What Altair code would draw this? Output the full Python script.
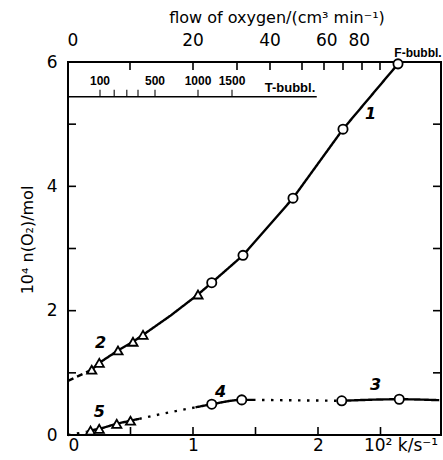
import altair as alt
import pandas as pd

FONT = "DejaVu Sans"
SMALL = "Liberation Sans"

# ---------------- data ----------------
# curve 2 (triangles) joined with curve 1 (circles): solid line
c12_k = [0.19, 0.25, 0.40, 0.52, 0.60, 0.82, 1.04, 1.15, 1.40, 1.80, 2.20, 2.64]
c12_n = [1.05, 1.16, 1.36, 1.50, 1.61, 1.92, 2.26, 2.45, 2.89, 3.81, 4.92, 5.97]
tri2_k = [0.19, 0.25, 0.40, 0.52, 0.60, 1.04]
tri2_n = [1.05, 1.16, 1.36, 1.50, 1.61, 2.26]
circ1_k = [1.15, 1.40, 1.80, 2.20, 2.64]
circ1_n = [2.45, 2.89, 3.81, 4.92, 5.97]
dash2_k = [0.0, 0.19]
dash2_n = [0.87, 1.05]

# curve 5 (triangles)
c5_k = [0.15, 0.18, 0.25, 0.39, 0.50, 0.57]
c5_n = [0.05, 0.07, 0.10, 0.18, 0.23, 0.26]
tri5_k = [0.18, 0.25, 0.39, 0.50]
tri5_n = [0.07, 0.10, 0.18, 0.23]
dot0_k = [0.0, 0.15]
dot0_n = [0.0, 0.05]
dot1_k = [0.57, 0.80, 1.02]
dot1_n = [0.26, 0.36, 0.445]

# curve 4 (circles)
c4_k = [1.02, 1.15, 1.39, 1.48]
c4_n = [0.445, 0.495, 0.565, 0.565]
circ4_k = [1.15, 1.39]
circ4_n = [0.495, 0.565]
dot2_k = [1.48, 2.19]
dot2_n = [0.565, 0.55]

# curve 3 (circles)
c3_k = [2.19, 2.65, 2.97]
c3_n = [0.55, 0.575, 0.56]
circ3_k = [2.19, 2.65]
circ3_n = [0.55, 0.575]

# curve numbers
lab_text = ["1", "2", "3", "4", "5"]
lab_k = [2.42, 0.26, 2.46, 1.22, 0.25]
lab_n = [5.16, 1.48, 0.81, 0.69, 0.37]

# axis ticks
y_ticks = [1, 2, 3, 4, 5]
x_ticks = [0.5, 1.0, 1.5, 2.0, 2.5]
y_labels = [0, 2, 4, 6]
x_labels = [0, 1, 2]

# top axis: flow of oxygen (F-bubbl.), non-linear, tick value -> k position
flow_vals = [0, 10, 20, 30, 40, 50, 60, 70, 80, 90]
flow_k = [0.0, 0.496, 1.0, 1.352, 1.616, 1.872, 2.048, 2.20, 2.352, 2.496]
flow_lab = ["0", "", "20", "", "40", "", "60", "", "80", ""]
flow_lab_k = [0.04, 0.496, 1.0, 1.352, 1.616, 1.872, 2.07, 2.20, 2.33, 2.496]

# inner T-bubbl. scale
t_line_k = [0.0, 1.99]
t_line_n = 5.44
t_vals = [100, 200, 300, 400, 500, 1000, 1500]
t_k = [0.256, 0.37, 0.47, 0.56, 0.696, 1.04, 1.312]
t_lab = ["100", "", "", "", "500", "1000", "1500"]

# ---------------- tables ----------------
segs = []
def add(name, style, interp, ks, ns):
    for i, (k, n) in enumerate(zip(ks, ns)):
        segs.append({"seg": name, "style": style, "interp": interp, "ord": i, "k": k, "n": n})

add("c12", "solid", "lin", c12_k, c12_n)
add("d2", "dashed", "mono", dash2_k, dash2_n)
add("c5", "solid", "mono", c5_k, c5_n)
add("o0", "dotted", "mono", dot0_k, dot0_n)
add("o1", "dotted", "mono", dot1_k, dot1_n)
add("c4", "solid", "mono", c4_k, c4_n)
add("o2", "dotted", "mono", dot2_k, dot2_n)
add("c3", "solid", "mono", c3_k, c3_n)
lines_df = pd.DataFrame(segs)

pts = []
for ks, ns, sh in [(tri2_k, tri2_n, "triangle-up"), (circ1_k, circ1_n, "circle"),
                   (tri5_k, tri5_n, "triangle-up"), (circ4_k, circ4_n, "circle"),
                   (circ3_k, circ3_n, "circle")]:
    for k, n in zip(ks, ns):
        pts.append({"k": k, "n": n, "shape": sh})
pts_df = pd.DataFrame(pts)

lab_df = pd.DataFrame({"k": lab_k, "n": lab_n, "t": lab_text})
yt_df = pd.DataFrame({"n": y_ticks})
xt_df = pd.DataFrame({"k": x_ticks})
flow_df = pd.DataFrame({"k": flow_k, "v": flow_vals, "t": flow_lab})
flow_lab_df = pd.DataFrame({"k": flow_lab_k, "t": flow_lab})
tline_df = pd.DataFrame({"k": [t_line_k[0]], "k2": [t_line_k[1]], "n": [t_line_n]})
t_df = pd.DataFrame({"k": t_k, "v": t_vals, "t": t_lab, "n": [t_line_n] * len(t_k)})

W, H = 373, 373
xs = alt.Scale(domain=[0, 2.984], nice=False, zero=False)
ys = alt.Scale(domain=[0, 6.0], nice=False, zero=False)
xaxis = alt.Axis(values=x_labels, ticks=False, domain=False, grid=False, title=None,
                 labelFontSize=17, labelFont=FONT, labelColor="black", labelPadding=2)
yaxis = alt.Axis(values=y_labels, ticks=False, domain=False, grid=False, title=None,
                 labelFontSize=17, labelFont=FONT, labelColor="black", labelPadding=11,
                 labelFlush=False, labelOverlap=False)

def X(f="k"):
    return alt.X(f"{f}:Q", scale=xs, axis=xaxis)

def Y(f="n"):
    return alt.Y(f"{f}:Q", scale=ys, axis=yaxis)

dash_scale = alt.Scale(domain=["solid", "dashed", "dotted"],
                       range=[[1, 0], [6, 4], [2.5, 6.5]])

def line_layer(interp, mode):
    return alt.Chart(lines_df).transform_filter(
        alt.datum.interp == interp
    ).mark_line(color="black", strokeWidth=2.4, interpolate=mode,
                strokeJoin="round").encode(
        x=X(), y=Y(), detail="seg:N", order="ord:Q",
        strokeDash=alt.StrokeDash("style:N", legend=None, scale=dash_scale))

lines_lin = line_layer("lin", "linear")
lines_mono = line_layer("mono", "monotone")

points = alt.Chart(pts_df).mark_point(filled=True, fill="white", stroke="black",
                                      strokeWidth=1.8, size=85, opacity=1).encode(
    x=X(), y=Y(),
    shape=alt.Shape("shape:N", legend=None,
                    scale=alt.Scale(domain=["circle", "triangle-up"],
                                    range=["circle", "triangle-up"])))

labels = alt.Chart(lab_df).mark_text(font=FONT, fontSize=16, fontStyle="italic",
                                     fontWeight="bold", color="black").encode(
    x=X(), y=Y(), text="t:N")

left_ticks = alt.Chart(yt_df).mark_rule(color="black", strokeWidth=1.6).encode(
    y=Y(), x=alt.value(0), x2=alt.value(8))
right_ticks = alt.Chart(yt_df).mark_rule(color="black", strokeWidth=1.6).encode(
    y=Y(), x=alt.value(W), x2=alt.value(W - 8))
bottom_ticks = alt.Chart(xt_df).mark_rule(color="black", strokeWidth=1.6).encode(
    x=X(), y=alt.value(H), y2=alt.value(H - 8))
top_ticks = alt.Chart(flow_df).mark_rule(color="black", strokeWidth=1.6).encode(
    x=X(), y=alt.value(0), y2=alt.value(8))
top_labels = alt.Chart(flow_lab_df).mark_text(font=FONT, fontSize=17, color="black",
                                              baseline="middle").encode(
    x=X(), y=alt.value(-21), text="t:N")

t_line = alt.Chart(tline_df).mark_rule(color="black", strokeWidth=1.6).encode(
    x=X(), x2="k2:Q", y=Y())
t_ticks = alt.Chart(t_df).mark_tick(orient="vertical", size=7, yOffset=-3.5,
                                    thickness=1.5, color="black").encode(x=X(), y=Y())
t_labels = alt.Chart(t_df).mark_text(font=SMALL, fontSize=12, fontWeight="bold",
                                     color="black", dy=-16).encode(
    x=X(), y=Y(), text="t:N")

def note(txt, x, y, size, angle=0, weight="normal", font=FONT):
    return alt.Chart(pd.DataFrame({"t": [txt]})).mark_text(
        font=font, fontSize=size, color="black", angle=angle, fontWeight=weight,
        baseline="middle", align="center").encode(
        text="t:N", x=alt.value(x), y=alt.value(y))

top_title = note("flow of oxygen/(cm³ min⁻¹)", 209, -44, 16)
f_bubbl = note("F-bubbl.", 350, -9, 12, weight="bold", font=SMALL)
t_bubbl = note("T-bubbl.", 222, 26, 13, weight="bold", font=SMALL)
y_title = note("10⁴ n(O₂)/mol", -40, 178, 16, angle=270)
x_title = note("10² k/s⁻¹", 333, 384, 17)

chart = alt.layer(
    lines_lin, lines_mono, points, labels, left_ticks, right_ticks, bottom_ticks,
    top_ticks, top_labels, t_line, t_ticks, t_labels, top_title, f_bubbl, t_bubbl,
    y_title, x_title
).properties(
    width=W, height=H,
    autosize=alt.AutoSizeParams(type="none"),
    padding={"left": 68, "top": 62, "right": 2, "bottom": 25},
    background="white",
).configure_view(stroke="black", strokeWidth=2)

chart.save("out.html", embed_options={"renderer": "svg", "actions": False})
